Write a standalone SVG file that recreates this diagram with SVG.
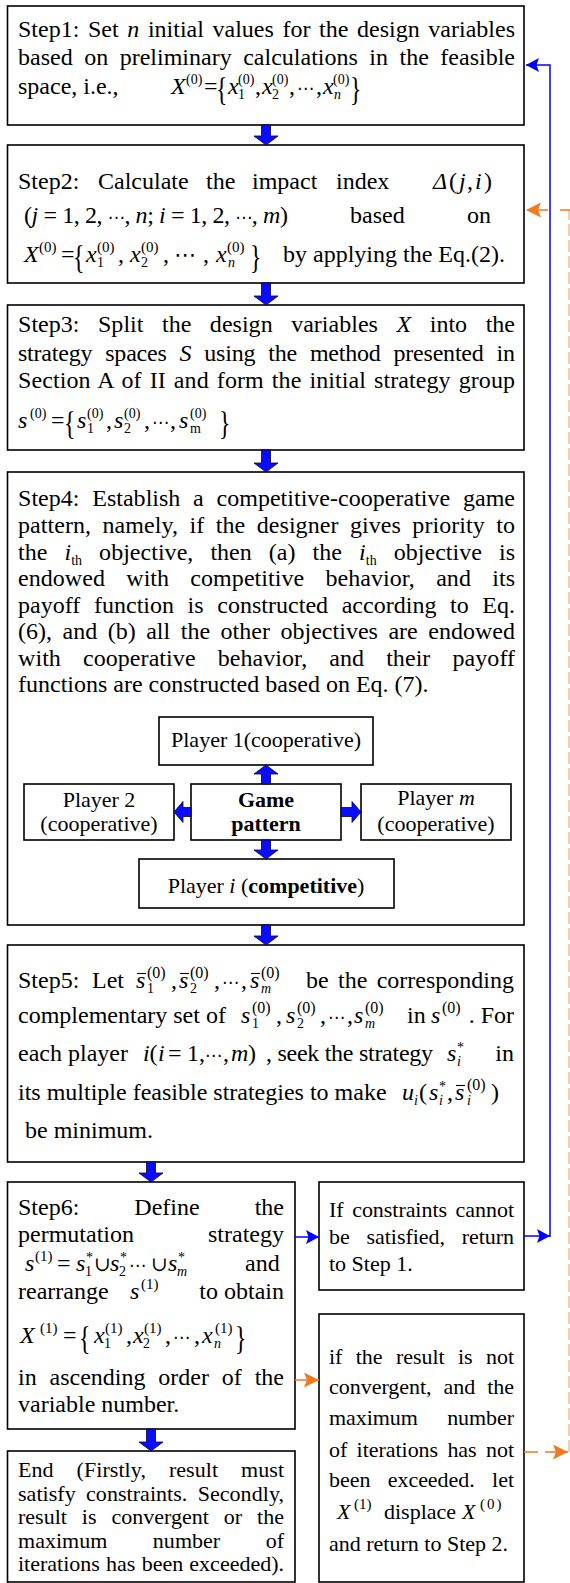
<svg xmlns="http://www.w3.org/2000/svg" width="570" height="1583" viewBox="0 0 570 1583">
<style>
.box{fill:#fff;stroke:#000;stroke-width:1.6}
.t{font-family:"Liberation Serif","Times New Roman","DejaVu Serif",serif;font-size:24px;fill:#000}
.s22{font-size:22px}
.sc{font-size:14px}
.s15{font-size:15px}
.s16{font-size:16px}
.it{font-style:italic}
.bd{font-weight:bold}
.br{font-size:34px}
.dots{font-family:"DejaVu Sans",sans-serif;font-size:17px}
.dotsL{font-family:"DejaVu Sans",sans-serif;font-size:22px}
.cup{font-family:"DejaVu Serif","DejaVu Sans",serif;font-size:20px}
.ov{stroke:#000;stroke-width:1.1}
.blk{fill:#0b0bff;stroke:#000040;stroke-width:0.8}
.bl{fill:none;stroke:#0000ff;stroke-width:1.5}
.or{fill:none;stroke:#f07a1e;stroke-width:1.5}
.orp{fill:none;stroke:#f5cdb0;stroke-width:2;stroke-dasharray:12 4}
</style>
<defs>
<marker id="hb" viewBox="0 0 13 14" refX="13" refY="7" markerWidth="13" markerHeight="14" markerUnits="userSpaceOnUse" orient="auto">
<path d="M0,0 L13,7 L0,14 L2.5,7 z" fill="#0000ff"/>
</marker>
<marker id="ho" viewBox="0 0 15 15" refX="15" refY="7.5" markerWidth="15" markerHeight="15" markerUnits="userSpaceOnUse" orient="auto">
<path d="M0,0 L15,7.5 L0,15 L3,7.5 z" fill="#f07a1e"/>
</marker>
</defs>

<!-- Step 1 -->
<g id="step1">
<rect class="box" x="7.5" y="6" width="516.5" height="119"/>
<text class="t" x="18" y="37" word-spacing="2.6" textLength="497" lengthAdjust="spacing">Step1: Set <tspan class="it">n</tspan> initial values for the design variables</text>
<text class="t" x="18" y="65" word-spacing="5.5" textLength="497" lengthAdjust="spacing">based on preliminary calculations in the feasible</text>
<text class="t" x="18" y="94">space, i.e.,</text>
<g transform="translate(171,94)">
<text class="t"><tspan x="0" y="0" class="it">X</tspan><tspan x="15" y="-10" class="sc">(0)</tspan><tspan x="33" y="0">=</tspan><tspan x="57" y="0" class="it">x</tspan><tspan x="67" y="-10" class="sc">(0)</tspan><tspan x="67" y="5" class="sc">1</tspan><tspan x="84" y="0">,</tspan><tspan x="91" y="0" class="it">x</tspan><tspan x="101" y="-10" class="sc">(0)</tspan><tspan x="101" y="5" class="sc">2</tspan><tspan x="118" y="0">,</tspan><tspan x="126" y="0" class="dots">⋯</tspan><tspan x="145" y="0">,</tspan><tspan x="152" y="0" class="it">x</tspan><tspan x="162" y="-10" class="sc">(0)</tspan><tspan x="163" y="5" class="sc it">n</tspan></text>
<text class="t br" transform="translate(45,6) scale(0.7,1)">{</text>
<text class="t br" transform="translate(179,6) scale(0.7,1)">}</text>
</g>
</g>

<!-- Step 2 -->
<g id="step2">
<rect class="box" x="7.5" y="145" width="516.5" height="138"/>
<text class="t" y="189"><tspan x="18">Step2: </tspan><tspan x="98">Calculate </tspan><tspan x="206">the </tspan><tspan x="252">impact </tspan><tspan x="336">index </tspan><tspan x="433" class="it">Δ</tspan><tspan x="449">(</tspan><tspan x="459" class="it">j</tspan><tspan x="467">,</tspan><tspan x="475" class="it">i</tspan><tspan x="484">)</tspan></text>
<text class="t" x="24" y="223" textLength="264" lengthAdjust="spacing">(<tspan class="it">j</tspan> = 1, 2, <tspan class="dots">⋯</tspan>, <tspan class="it">n</tspan>; <tspan class="it">i</tspan> = 1, 2, <tspan class="dots">⋯</tspan>, <tspan class="it">m</tspan>)</text>
<text class="t" y="223"><tspan x="350">based </tspan><tspan x="467">on</tspan></text>
<g transform="translate(24,262)">
<text class="t"><tspan x="0" y="0" class="it">X</tspan><tspan x="15" y="-10" class="s15">(0)</tspan><tspan x="37" y="0">=</tspan><tspan x="62" y="0" class="it">x</tspan><tspan x="73" y="-10" class="s15">(0)</tspan><tspan x="73" y="5" class="sc">1</tspan><tspan x="94" y="0">,</tspan><tspan x="106" y="0" class="it">x</tspan><tspan x="117" y="-10" class="s15">(0)</tspan><tspan x="117" y="5" class="sc">2</tspan><tspan x="139" y="0">,</tspan><tspan x="150" y="0" class="dotsL">⋯</tspan><tspan x="179" y="0">,</tspan><tspan x="192" y="0" class="it">x</tspan><tspan x="203" y="-10" class="s15">(0)</tspan><tspan x="204" y="5" class="sc it">n</tspan></text>
<text class="t br" transform="translate(49,6) scale(0.7,1)">{</text>
<text class="t br" transform="translate(226,6) scale(0.7,1)">}</text>
</g>
<text class="t" x="283" y="262">by applying the Eq.(2).</text>
</g>

<!-- Step 3 -->
<g id="step3">
<rect class="box" x="7.5" y="305" width="516.5" height="145"/>
<text class="t" x="18" y="332" word-spacing="12.5" textLength="497" lengthAdjust="spacing">Step3: Split the design variables <tspan class="it">X</tspan> into the</text>
<text class="t" x="18" y="361" word-spacing="7.2" textLength="497" lengthAdjust="spacing">strategy spaces <tspan class="it">S</tspan> using the method presented in</text>
<text class="t" x="18" y="388" word-spacing="2" textLength="497" lengthAdjust="spacing">Section A of II and form the initial strategy group</text>
<g transform="translate(18,428)">
<text class="t"><tspan x="0" y="0" class="it">s</tspan><tspan x="12" y="-10" class="sc">(0)</tspan><tspan x="33" y="0">=</tspan><tspan x="59" y="0" class="it">s</tspan><tspan x="69" y="-10" class="sc">(0)</tspan><tspan x="69" y="5" class="sc">1</tspan><tspan x="88" y="0">,</tspan><tspan x="96" y="0" class="it">s</tspan><tspan x="106" y="-10" class="sc">(0)</tspan><tspan x="106" y="5" class="sc">2</tspan><tspan x="126" y="0">,</tspan><tspan x="134" y="0" class="dots">⋯</tspan><tspan x="152" y="0">,</tspan><tspan x="161" y="0" class="it">s</tspan><tspan x="172" y="-10" class="sc">(0)</tspan><tspan x="172" y="5" class="sc">m</tspan></text>
<text class="t br" transform="translate(46,6) scale(0.7,1)">{</text>
<text class="t br" transform="translate(201,6) scale(0.7,1)">}</text>
</g>
</g>

<!-- Step 4 -->
<g id="step4">
<rect class="box" x="7.5" y="472" width="516.5" height="453"/>
<text class="t" x="18" y="506" word-spacing="6.7" textLength="497" lengthAdjust="spacing">Step4: Establish a competitive-cooperative game</text>
<text class="t" x="18" y="533" word-spacing="5.4" textLength="497" lengthAdjust="spacing">pattern, namely, if the designer gives priority to</text>
<text class="t" x="18" y="559.5" word-spacing="11" textLength="497" lengthAdjust="spacing">the <tspan class="it">i</tspan><tspan class="sc" dy="5">th</tspan><tspan dy="-5"> objective, then (a) the </tspan><tspan class="it">i</tspan><tspan class="sc" dy="5">th</tspan><tspan dy="-5"> objective is</tspan></text>
<text class="t" x="18" y="586" word-spacing="15.2" textLength="497" lengthAdjust="spacing">endowed with competitive behavior, and its</text>
<text class="t" x="18" y="612.5" word-spacing="7.5" textLength="497" lengthAdjust="spacing">payoff function is constructed according to Eq.</text>
<text class="t" x="18" y="639" word-spacing="4.4" textLength="497" lengthAdjust="spacing">(6), and (b) all the other objectives are endowed</text>
<text class="t" x="18" y="665.5" word-spacing="16" textLength="497" lengthAdjust="spacing">with cooperative behavior, and their payoff</text>
<text class="t" x="18" y="692">functions are constructed based on Eq. (7).</text>
</g>

<!-- game pattern players -->
<g id="player1">
<rect class="box" x="159" y="717" width="214" height="48"/>
<text class="t s22" x="266" y="747" text-anchor="middle">Player 1(cooperative)</text>
</g>
<g id="player2">
<rect class="box" x="24" y="784" width="150" height="56"/>
<text class="t s22" x="99" y="807" text-anchor="middle">Player 2</text>
<text class="t s22" x="99" y="831" text-anchor="middle">(cooperative)</text>
</g>
<g id="game">
<rect class="box" x="191" y="784" width="150" height="56"/>
<text class="t s22 bd" x="266" y="807" text-anchor="middle">Game</text>
<text class="t s22 bd" x="266" y="831" text-anchor="middle">pattern</text>
</g>
<g id="playerm">
<rect class="box" x="361" y="784" width="150" height="56"/>
<text class="t s22" x="436" y="805" text-anchor="middle">Player <tspan class="it">m</tspan></text>
<text class="t s22" x="436" y="831" text-anchor="middle">(cooperative)</text>
</g>
<g id="playeri">
<rect class="box" x="139" y="859" width="255" height="49"/>
<text class="t s22" x="266" y="893" text-anchor="middle">Player <tspan class="it">i</tspan> (<tspan class="bd">competitive</tspan>)</text>
</g>

<!-- Step 5 -->
<g id="step5">
<rect class="box" x="7.5" y="945" width="516.5" height="217"/>
<text class="t" y="988"><tspan x="18">Step5: </tspan><tspan x="92">Let</tspan></text>
<g transform="translate(136,988)">
<text class="t"><tspan x="0" y="0" class="it">s</tspan><tspan x="11" y="-10" class="s16">(0)</tspan><tspan x="11" y="5" class="sc">1</tspan><tspan x="35" y="0">,</tspan><tspan x="43" y="0" class="it">s</tspan><tspan x="54" y="-10" class="s16">(0)</tspan><tspan x="54" y="5" class="sc">2</tspan><tspan x="78" y="0">,</tspan><tspan x="86" y="0" class="dots">⋯</tspan><tspan x="105" y="0">,</tspan><tspan x="114" y="0" class="it">s</tspan><tspan x="125" y="-10" class="s16">(0)</tspan><tspan x="125" y="5" class="sc it">m</tspan></text>
<line class="ov" x1="1" y1="-14.5" x2="10" y2="-14.5"/>
<line class="ov" x1="44" y1="-14.5" x2="53" y2="-14.5"/>
<line class="ov" x1="115" y1="-14.5" x2="124" y2="-14.5"/>
</g>
<text class="t" x="306" y="988" word-spacing="3.3" textLength="208" lengthAdjust="spacing">be the corresponding</text>
<text class="t" x="18" y="1023">complementary set of</text>
<g transform="translate(241,1023)">
<text class="t"><tspan x="0" y="0" class="it">s</tspan><tspan x="11" y="-10" class="s16">(0)</tspan><tspan x="11" y="5" class="sc">1</tspan><tspan x="35" y="0">,</tspan><tspan x="45" y="0" class="it">s</tspan><tspan x="56" y="-10" class="s16">(0)</tspan><tspan x="56" y="5" class="sc">2</tspan><tspan x="79" y="0">,</tspan><tspan x="87" y="0" class="dots">⋯</tspan><tspan x="106" y="0">,</tspan><tspan x="113" y="0" class="it">s</tspan><tspan x="124" y="-10" class="s16">(0)</tspan><tspan x="124" y="5" class="sc it">m</tspan></text>
</g>
<text class="t" x="407" y="1023">in</text>
<text class="t" y="1023"><tspan x="431" class="it">s</tspan><tspan x="442" y="1013" class="s16">(0)</tspan></text>
<text class="t" x="514" y="1023" text-anchor="end">. For</text>
<text class="t" x="18" y="1061">each player</text>
<g transform="translate(143,1061)">
<text class="t"><tspan x="0" y="0" class="it">i</tspan><tspan x="6.5" y="0">(</tspan><tspan x="15" y="0" class="it">i</tspan><tspan x="25" y="0">=</tspan><tspan x="44" y="0">1</tspan><tspan x="56" y="0">,</tspan><tspan x="62" y="0" class="dots">⋯</tspan><tspan x="80" y="0">,</tspan><tspan x="88" y="0" class="it">m</tspan><tspan x="105" y="0">)</tspan></text>
</g>
<text class="t" x="266" y="1061" textLength="167" lengthAdjust="spacing">, seek the strategy</text>
<g transform="translate(447,1061)">
<text class="t"><tspan x="0" y="0" class="it">s</tspan><tspan x="10" y="-9" class="sc">*</tspan><tspan x="10" y="5" class="sc it">i</tspan></text>
</g>
<text class="t" x="514" y="1061" text-anchor="end">in</text>
<text class="t" x="18" y="1100">its multiple feasible strategies to make</text>
<g transform="translate(402,1100)">
<text class="t"><tspan x="0" y="0" class="it">u</tspan><tspan x="12" y="5" class="sc it">i</tspan><tspan x="17" y="0">(</tspan><tspan x="27" y="0" class="it">s</tspan><tspan x="37" y="-9" class="sc">*</tspan><tspan x="37" y="5" class="sc it">i</tspan><tspan x="45" y="0">,</tspan><tspan x="53" y="0" class="it">s</tspan><tspan x="65" y="-10" class="s16">(0)</tspan><tspan x="65" y="5" class="sc it">i</tspan><tspan x="89" y="0">)</tspan></text>
<line class="ov" x1="54" y1="-14.5" x2="63" y2="-14.5"/>
</g>
<text class="t" x="25" y="1138">be minimum.</text>
</g>

<!-- Step 6 -->
<g id="step6">
<rect class="box" x="7.5" y="1182" width="287.5" height="247"/>
<text class="t" x="18" y="1215" word-spacing="49" textLength="266" lengthAdjust="spacing">Step6: Define the</text>
<text class="t" x="18" y="1242" word-spacing="68" textLength="266" lengthAdjust="spacing">permutation strategy</text>
<g transform="translate(25,1271)">
<text class="t"><tspan x="0" y="0" class="it">s</tspan><tspan x="10" y="-10" class="s15">(1)</tspan><tspan x="32" y="0">=</tspan><tspan x="51" y="0" class="it">s</tspan><tspan x="61" y="-9" class="sc">*</tspan><tspan x="60" y="5" class="sc">1</tspan><tspan x="69" y="0" class="cup">∪</tspan><tspan x="85" y="0" class="it">s</tspan><tspan x="95" y="-9" class="sc">*</tspan><tspan x="94" y="5" class="sc">2</tspan><tspan x="104" y="0" class="dots">⋯</tspan><tspan x="126" y="0" class="cup">∪</tspan><tspan x="143" y="0" class="it">s</tspan><tspan x="153" y="-9" class="sc">*</tspan><tspan x="152" y="5" class="sc it">m</tspan></text>
</g>
<text class="t" x="245" y="1271">and</text>
<text class="t" x="18" y="1299">rearrange</text>
<text class="t" y="1299"><tspan x="130" class="it">s</tspan><tspan x="141" y="1289" class="s15">(1)</tspan></text>
<text class="t" x="284" y="1299" text-anchor="end">to obtain</text>
<g transform="translate(20,1343)">
<text class="t"><tspan x="0" y="0" class="it">X</tspan><tspan x="20" y="-10" class="s15">(1)</tspan><tspan x="43" y="0">=</tspan><tspan x="74" y="0" class="it">x</tspan><tspan x="85" y="-10" class="s15">(1)</tspan><tspan x="84" y="5" class="sc">1</tspan><tspan x="106" y="0">,</tspan><tspan x="113" y="0" class="it">x</tspan><tspan x="124" y="-10" class="s15">(1)</tspan><tspan x="123" y="5" class="sc">2</tspan><tspan x="145" y="0">,</tspan><tspan x="153" y="0" class="dots">⋯</tspan><tspan x="174" y="0">,</tspan><tspan x="182" y="0" class="it">x</tspan><tspan x="195" y="-10" class="s15">(1)</tspan><tspan x="194" y="5" class="sc it">n</tspan></text>
<text class="t br" transform="translate(59,6) scale(0.7,1)">{</text>
<text class="t br" transform="translate(215,6) scale(0.7,1)">}</text>
</g>
<text class="t" x="18" y="1385" word-spacing="6.85" textLength="266" lengthAdjust="spacing">in ascending order of the</text>
<text class="t" x="18" y="1412">variable number.</text>
</g>

<!-- End -->
<g id="end">
<rect class="box" x="7.5" y="1451" width="287.5" height="131"/>
<text class="t s22" x="18" y="1477" word-spacing="17.4" textLength="266" lengthAdjust="spacing">End (Firstly, result must</text>
<text class="t s22" x="18" y="1500.5" word-spacing="4.7" textLength="266" lengthAdjust="spacing">satisfy constraints. Secondly,</text>
<text class="t s22" x="18" y="1524" word-spacing="9.4" textLength="266" lengthAdjust="spacing">result is convergent or the</text>
<text class="t s22" x="18" y="1547.5" word-spacing="40" textLength="266" lengthAdjust="spacing">maximum number of</text>
<text class="t s22" x="18" y="1571" word-spacing="0.7" textLength="266" lengthAdjust="spacing">iterations has been exceeded).</text>
</g>

<!-- constraint check -->
<g id="constraint">
<rect class="box" x="319" y="1182" width="205" height="108"/>
<text class="t s22" x="329" y="1217" word-spacing="3.2" textLength="185" lengthAdjust="spacing">If constraints cannot</text>
<text class="t s22" x="329" y="1244" word-spacing="11.4" textLength="185" lengthAdjust="spacing">be satisfied, return</text>
<text class="t s22" x="329" y="1271">to Step 1.</text>
</g>

<!-- convergence check -->
<g id="result">
<rect class="box" x="319" y="1314" width="205" height="268"/>
<text class="t s22" x="329" y="1364" word-spacing="8" textLength="185" lengthAdjust="spacing">if the result is not</text>
<text class="t s22" x="329" y="1394" word-spacing="6.5" textLength="185" lengthAdjust="spacing">convergent, and the</text>
<text class="t s22" x="329" y="1425" word-spacing="24" textLength="185" lengthAdjust="spacing">maximum number</text>
<text class="t s22" x="329" y="1457" word-spacing="3.9" textLength="185" lengthAdjust="spacing">of iterations has not</text>
<text class="t s22" x="329" y="1487" word-spacing="12" textLength="185" lengthAdjust="spacing">been exceeded. let</text>
<text class="t s22" y="1519"><tspan x="337" class="it">X</tspan><tspan x="354" y="1509" class="s15">(1)</tspan></text>
<text class="t s22" x="384" y="1519">displace</text>
<text class="t s22" y="1519"><tspan x="462" class="it">X</tspan><tspan x="480" y="1509" class="s15" letter-spacing="2">(0)</tspan></text>
<text class="t s22" x="329" y="1551">and return to Step 2.</text>
</g>

<!-- connectors -->
<g id="connectors">
<path class="blk" d="M261.5,125H270.5V136H278L266,145L254,136H261.5Z"/>
<path class="blk" d="M261.5,283H270.5V296H278L266,305L254,296H261.5Z"/>
<path class="blk" d="M261.5,450H270.5V463H278L266,472L254,463H261.5Z"/>
<path class="blk" d="M261.5,925H270.5V936H278L266,945L254,936H261.5Z"/>
<path class="blk" d="M146.5,1162H155.5V1173H163L151,1182L139,1173H146.5Z"/>
<path class="blk" d="M146.5,1429H155.5V1442H163L151,1451L139,1442H146.5Z"/>
<path class="blk" d="M261.5,784H270.5V774H278L266,765L254,774H261.5Z"/>
<path class="blk" d="M261.5,840H270.5V850H278L266,859L254,850H261.5Z"/>
<path class="blk" d="M191,807.5V816.5H183V822.5L174,812L183,801.5V807.5Z"/>
<path class="blk" d="M341,807.5V816.5H352V822.5L361,812L352,801.5V807.5Z"/>
<path class="bl" d="M295,1237H319" marker-end="url(#hb)"/>
<path class="bl" d="M524,1236H550" marker-end="url(#hb)"/>
<path class="bl" d="M550,1237V65H526" marker-end="url(#hb)"/>
<path class="or" d="M295,1380H319" marker-end="url(#ho)"/>
<path class="or" d="M524,1452H568" stroke-dasharray="14 7" marker-end="url(#ho)"/>
<path class="orp" d="M569,1452V210"/>
<path class="or" d="M570,210H526" stroke-dasharray="10 12" marker-end="url(#ho)"/>
</g>
</svg>
